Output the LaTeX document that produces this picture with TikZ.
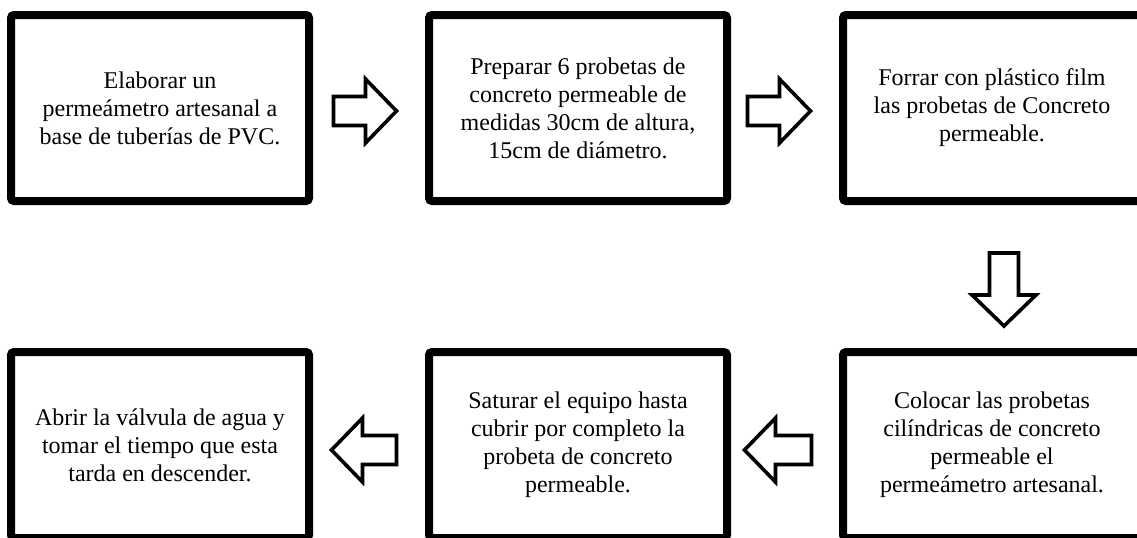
\documentclass[tikz,border=0pt]{standalone}
\usepackage{fontspec}
\setmainfont{Liberation Serif}
\usetikzlibrary{calc,positioning}

\tikzset{
  stepbox/.style={draw, line width=4pt, rounded corners=1.5pt, outer sep=2pt,
    inner sep=0pt, minimum width=149pt, minimum height=93pt, align=center,
    font=\fontsize{12}{14}\selectfont},
  arrowline/.style={draw, line width=1.8pt, line join=miter, fill=white},
  pics/blockarrow/.style={code={
    \draw[arrowline] ({-#1/2},-14.5) -- ({#1/2-31},-14.5) -- ({#1/2-31},-32)
      -- ({#1/2},0) -- ({#1/2-31},32) -- ({#1/2-31},14.5) -- ({-#1/2},14.5) -- cycle;
  }},
}

\begin{document}
\begin{tikzpicture}[x=0.5pt, y=-0.5pt]
    \useasboundingbox (0,0) rectangle (1137,537);
    \clip (0,0) rectangle (1137,537);
    \node[stepbox] (b1) at (160,108) {Elaborar un\\permeámetro artesanal a\\base de tuberías de PVC.};
    \node[stepbox, right=56pt of b1] (b2) {Preparar 6 probetas de\\concreto permeable de\\medidas 30cm de altura,\\15cm de diámetro.};
    \node[stepbox, right=54pt of b2] (b3) {Forrar con plástico film\\las probetas de Concreto\\permeable.};
    \node[stepbox, below=71.5pt of b3] (b6) {Colocar las probetas\\cilíndricas de concreto\\permeable el\\permeámetro artesanal.};
    \node[stepbox, left=54pt of b6] (b5) {Saturar el equipo hasta\\cubrir por completo la\\probeta de concreto\\permeable.};
    \node[stepbox, left=56pt of b5] (b4) {Abrir la válvula de agua y\\tomar el tiempo que esta\\tarda en descender.};
    \pic at ($(b1.east)!0.5!(b2.west)+(-4,3)$) {blockarrow=63};
    \pic at ($(b2.east)!0.5!(b3.west)+(-6,3)$) {blockarrow=63};
    \pic[rotate=-90] at ($(b3.south)!0.5!(b6.north)+(12,13)$) {blockarrow=73};
    \pic[rotate=180] at ($(b6.west)!0.5!(b5.east)+(-7,5)$) {blockarrow=67};
    \pic[rotate=180] at ($(b5.west)!0.5!(b4.east)+(-5,5)$) {blockarrow=65};
\end{tikzpicture}
\end{document}
